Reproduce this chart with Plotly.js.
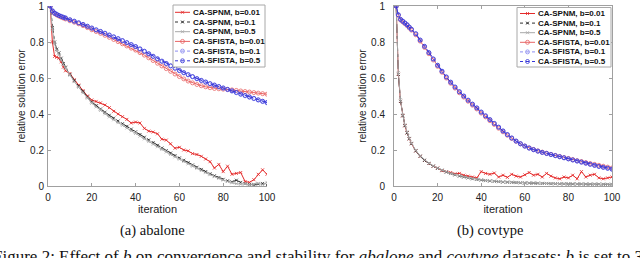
<!DOCTYPE html>
<html><head><meta charset="utf-8">
<script src="https://cdn.plot.ly/plotly-3.0.1.min.js"></script>
<style>html,body{margin:0;padding:0;background:#fff;}#chart{width:640px;height:258px;}</style>
</head><body><div id="chart"></div>
<script>
// iterations sampled
const iters = [1,2,3,4,5,6,7,8,10,12,14,16,18,20,22,24,26,28,30,32,34,36,38,40,42,44,46,48,50,52,54,56,58,60,62,64,66,68,70,72,74,76,78,80,82,84,86,88,90,92,94,96,98,100];

// (a) abalone
const abalone_SPNM_001 = [1,0.80,0.72,0.715,0.71,0.69,0.66,0.64,0.625,0.59,0.56,0.53,0.50,0.478,0.47,0.462,0.45,0.435,0.415,0.40,0.385,0.37,0.35,0.355,0.35,0.32,0.305,0.30,0.29,0.26,0.255,0.235,0.21,0.215,0.20,0.195,0.18,0.175,0.165,0.15,0.135,0.10,0.12,0.08,0.11,0.065,0.07,0.075,0.025,0.02,0.035,0.065,0.09,0.065];
const abalone_SPNM_01 = [1,0.88,0.80,0.76,0.74,0.71,0.68,0.66,0.62,0.585,0.555,0.525,0.495,0.468,0.447,0.428,0.41,0.393,0.377,0.361,0.346,0.331,0.316,0.301,0.286,0.271,0.256,0.241,0.226,0.211,0.197,0.183,0.169,0.156,0.143,0.13,0.117,0.104,0.092,0.08,0.068,0.057,0.047,0.037,0.029,0.023,0.032,0.02,0.013,0.009,0.007,0.011,0.014,0.005];
const abalone_SPNM_05 = [1,0.87,0.79,0.75,0.73,0.70,0.675,0.655,0.615,0.58,0.548,0.518,0.488,0.46,0.44,0.42,0.401,0.384,0.368,0.352,0.337,0.322,0.307,0.292,0.277,0.262,0.247,0.232,0.218,0.203,0.189,0.175,0.162,0.149,0.136,0.123,0.11,0.098,0.086,0.074,0.063,0.052,0.042,0.033,0.025,0.018,0.013,0.01,0.012,0.006,0.01,0.015,0.008,0.02];
const abalone_SFISTA_001 = [1,0.97,0.958,0.95,0.944,0.938,0.933,0.928,0.918,0.91,0.901,0.891,0.88,0.868,0.858,0.848,0.837,0.826,0.814,0.802,0.79,0.778,0.766,0.755,0.741,0.727,0.712,0.697,0.682,0.667,0.652,0.637,0.622,0.608,0.595,0.583,0.573,0.564,0.557,0.551,0.546,0.542,0.54,0.538,0.536,0.534,0.531,0.528,0.525,0.522,0.519,0.516,0.513,0.51];
const abalone_SFISTA_01 = [1,0.975,0.962,0.955,0.948,0.943,0.938,0.934,0.922,0.914,0.905,0.896,0.886,0.876,0.866,0.857,0.847,0.837,0.827,0.817,0.806,0.795,0.784,0.773,0.760,0.747,0.733,0.719,0.705,0.692,0.679,0.666,0.653,0.64,0.628,0.617,0.606,0.595,0.585,0.576,0.567,0.559,0.551,0.543,0.535,0.527,0.518,0.509,0.501,0.493,0.485,0.477,0.469,0.462];
const abalone_SFISTA_05 = [1,0.972,0.96,0.953,0.947,0.942,0.937,0.933,0.924,0.916,0.907,0.898,0.888,0.878,0.868,0.859,0.849,0.839,0.829,0.819,0.808,0.797,0.786,0.775,0.762,0.749,0.735,0.721,0.707,0.694,0.681,0.668,0.655,0.642,0.63,0.619,0.608,0.597,0.587,0.578,0.569,0.561,0.553,0.545,0.537,0.529,0.52,0.511,0.503,0.495,0.487,0.479,0.471,0.464];

// (b) covtype
const covtype_SPNM_001 = [1,0.62,0.47,0.39,0.335,0.295,0.262,0.235,0.195,0.165,0.142,0.125,0.11,0.1,0.085,0.08,0.075,0.068,0.07,0.06,0.055,0.05,0.045,0.08,0.07,0.065,0.072,0.05,0.06,0.048,0.065,0.055,0.05,0.062,0.075,0.06,0.065,0.05,0.07,0.055,0.045,0.04,0.05,0.045,0.06,0.04,0.08,0.05,0.06,0.065,0.045,0.04,0.045,0.05];
const covtype_SPNM_01 = [1,0.62,0.47,0.39,0.335,0.295,0.262,0.235,0.195,0.165,0.142,0.125,0.11,0.098,0.087,0.077,0.069,0.062,0.055,0.05,0.045,0.04,0.036,0.033,0.03,0.028,0.026,0.024,0.022,0.021,0.02,0.019,0.018,0.017,0.016,0.016,0.015,0.014,0.014,0.013,0.013,0.012,0.012,0.012,0.011,0.011,0.011,0.01,0.01,0.01,0.01,0.009,0.009,0.009];
const covtype_SPNM_05 = [1,0.63,0.48,0.395,0.34,0.3,0.265,0.238,0.198,0.168,0.145,0.127,0.112,0.1,0.089,0.079,0.07,0.063,0.057,0.051,0.046,0.042,0.038,0.034,0.031,0.029,0.027,0.025,0.023,0.022,0.021,0.02,0.019,0.018,0.017,0.016,0.016,0.015,0.014,0.014,0.013,0.013,0.012,0.012,0.012,0.011,0.011,0.011,0.01,0.01,0.01,0.01,0.009,0.009];
const covtype_SFISTA_001 = [1,0.948,0.922,0.912,0.902,0.891,0.878,0.866,0.84,0.805,0.77,0.735,0.70,0.665,0.632,0.60,0.571,0.544,0.518,0.494,0.471,0.449,0.428,0.405,0.384,0.363,0.342,0.321,0.301,0.282,0.264,0.248,0.234,0.222,0.212,0.203,0.195,0.188,0.182,0.176,0.17,0.164,0.158,0.153,0.147,0.141,0.136,0.13,0.125,0.12,0.115,0.11,0.105,0.10];
const covtype_SFISTA_01 = [1,0.95,0.925,0.915,0.905,0.895,0.882,0.87,0.845,0.81,0.775,0.74,0.705,0.67,0.637,0.605,0.576,0.549,0.523,0.499,0.476,0.454,0.433,0.41,0.389,0.368,0.347,0.326,0.305,0.285,0.266,0.249,0.234,0.221,0.21,0.201,0.193,0.186,0.18,0.174,0.168,0.162,0.156,0.15,0.144,0.138,0.132,0.126,0.12,0.114,0.108,0.103,0.098,0.093];
const covtype_SFISTA_05 = [1,0.951,0.926,0.916,0.906,0.896,0.883,0.871,0.846,0.811,0.776,0.741,0.706,0.671,0.638,0.606,0.577,0.55,0.524,0.5,0.477,0.455,0.434,0.411,0.39,0.369,0.348,0.327,0.306,0.286,0.267,0.25,0.235,0.222,0.211,0.202,0.194,0.187,0.181,0.175,0.169,0.163,0.157,0.151,0.145,0.139,0.133,0.127,0.121,0.115,0.109,0.104,0.099,0.094];

const seriesNames = ['CA-SPNM, b=0.01','CA-SPNM, b=0.1','CA-SPNM, b=0.5','CA-SFISTA, b=0.01','CA-SFISTA, b=0.1','CA-SFISTA, b=0.5'];
const xTicks = [0,20,40,60,80,100];
const yTicks = [0,0.2,0.4,0.6,0.8,1];
const yTickText = ['0','0.2','0.4','0.6','0.8','1'];

const abaloneData = [abalone_SPNM_001,abalone_SPNM_01,abalone_SPNM_05,abalone_SFISTA_001,abalone_SFISTA_01,abalone_SFISTA_05];
const covtypeData = [covtype_SPNM_001,covtype_SPNM_01,covtype_SPNM_05,covtype_SFISTA_001,covtype_SFISTA_01,covtype_SFISTA_05];

const styles = [
  {color:'#e42a2a', dash:'solid',   symbol:'x-thin-open',  size:3, kind:'x'},
  {color:'#2e2e2e', dash:'dashdot', symbol:'x-thin-open',  size:3, kind:'x'},
  {color:'#a8a8a8', dash:'solid',   symbol:'x-thin-open',  size:3, kind:'x'},
  {color:'#e86464', dash:'solid',   symbol:'circle-open',  size:4, kind:'o'},
  {color:'#8c8cf0', dash:'dashdot', symbol:'circle-open',  size:4, kind:'o'},
  {color:'#3636d8', dash:'dashdot', symbol:'circle-open',  size:4, kind:'o'}
];

const W = 640, H = 258;
const PX = p => p / W, PY = p => 1 - p / H;

const traces = [];
function addPanel(data, xa, ya) {
  data.forEach((vals, i) => {
    const s = styles[i];
    traces.push({
      type:'scatter', mode:'lines+markers', x: iters, y: vals, xaxis: xa, yaxis: ya,
      name: seriesNames[i], showlegend:false, hoverinfo:'skip',
      line:{color:s.color, width:1, dash:s.dash},
      marker:{symbol:s.symbol, size:s.size, color:s.color, line:{color:s.color, width:0.8}}
    });
  });
}
addPanel(abaloneData, 'x', 'y');
addPanel(covtypeData, 'x2', 'y2');

const fontSans = 'Liberation Sans, Arial, Helvetica, sans-serif';
const fontSerif = 'Liberation Serif, Times New Roman, serif';

function axisBase(extra) {
  return Object.assign({
    range:[0,100], showgrid:false, zeroline:false, showline:true, linecolor:'#a0a0a0', linewidth:1,
    ticks:'inside', ticklen:3, tickcolor:'#a0a0a0', tickwidth:1,
    tickfont:{family:fontSans, size:10, color:'#222'}, fixedrange:true
  }, extra);
}

const shapes = [];
const annotations = [];

// custom legends
function addLegend(box, lineX0, lineX1, textX, row0, rowStep) {
  shapes.push({type:'rect', xref:'paper', yref:'paper', x0:PX(box[0]), x1:PX(box[1]), y0:PY(box[2]), y1:PY(box[3]),
    line:{color:'#a8a8a8', width:1}, fillcolor:'#ffffff', layer:'above'});
  seriesNames.forEach((nm, i) => {
    const s = styles[i];
    const py = row0 + rowStep * i;
    shapes.push({type:'line', xref:'paper', yref:'paper', x0:PX(lineX0), x1:PX(lineX1), y0:PY(py), y1:PY(py),
      line:{color:s.color, width:1, dash: s.dash === 'dashdot' ? 'dot' : 'solid'}, layer:'above'});
    const cx = (lineX0 + lineX1) / 2;
    if (s.kind === 'o') {
      shapes.push({type:'circle', xref:'paper', yref:'paper', x0:PX(cx-2), x1:PX(cx+2), y0:PY(py+2), y1:PY(py-2),
        line:{color:s.color, width:0.8}, fillcolor:'rgba(255,255,255,0)', layer:'above'});
    } else {
      shapes.push({type:'line', xref:'paper', yref:'paper', x0:PX(cx-1.5), x1:PX(cx+1.5), y0:PY(py-1.5), y1:PY(py+1.5),
        line:{color:s.color, width:0.8}, layer:'above'});
      shapes.push({type:'line', xref:'paper', yref:'paper', x0:PX(cx-1.5), x1:PX(cx+1.5), y0:PY(py+1.5), y1:PY(py-1.5),
        line:{color:s.color, width:0.8}, layer:'above'});
    }
    annotations.push({xref:'paper', yref:'paper', x:PX(textX), y:PY(py), xanchor:'left', yanchor:'middle',
      text:'<b>'+nm+'</b>', showarrow:false, font:{family:fontSans, size:8, color:'#111'}});
  });
}
addLegend([173,265,5,67], 175, 190, 191, 12.3, 9.7);
addLegend([517,611,7.5,67], 520, 535, 536, 13.5, 9.6);

annotations.push({xref:'paper', yref:'paper', x:PX(152), y:PY(230), xanchor:'center', yanchor:'middle',
  text:'(a) abalone', showarrow:false, font:{family:fontSerif, size:14.5, color:'#111'}});
annotations.push({xref:'paper', yref:'paper', x:PX(490), y:PY(230), xanchor:'center', yanchor:'middle',
  text:'(b) covtype', showarrow:false, font:{family:fontSerif, size:14.5, color:'#111'}});
annotations.push({xref:'paper', yref:'paper', x:PX(-9), y:PY(256), xanchor:'left', yanchor:'middle',
  text:'Figure 2: Effect of <i>b</i> on convergence and stability for <i>abalone</i> and <i>covtype</i> datasets; <i>b</i> is set to 3',
  showarrow:false, font:{family:fontSerif, size:17, color:'#111'}});

const layout = {
  width:W, height:H, margin:{l:0,r:0,t:0,b:0}, paper_bgcolor:'#fff', plot_bgcolor:'#fff', showlegend:false,
  xaxis: axisBase({domain:[PX(48), PX(267)], anchor:'y', tickvals:xTicks, ticklabelstandoff:2,
    title:{text:'iteration', standoff:2, font:{family:fontSans, size:11, color:'#222'}}}),
  yaxis: axisBase({domain:[PY(186), PY(6)], anchor:'x', range:[0,1], tickvals:yTicks, ticktext:yTickText, ticklabelstandoff:1,
    title:{text:'relative solution error', standoff:2, font:{family:fontSans, size:10, color:'#222'}}}),
  xaxis2: axisBase({domain:[PX(394), PX(612)], anchor:'y2', tickvals:xTicks, mirror:'ticks', ticklabelstandoff:2,
    title:{text:'iteration', standoff:2, font:{family:fontSans, size:11, color:'#222'}}}),
  yaxis2: axisBase({domain:[PY(186), PY(6)], anchor:'x2', range:[0,1], tickvals:yTicks, ticktext:yTickText, mirror:'ticks', ticklabelstandoff:6,
    title:{text:'relative solution error', standoff:2, font:{family:fontSans, size:10, color:'#222'}}}),
  shapes: shapes,
  annotations: annotations
};

Plotly.newPlot('chart', traces, layout, {displayModeBar:false, staticPlot:true});
</script></body></html>
